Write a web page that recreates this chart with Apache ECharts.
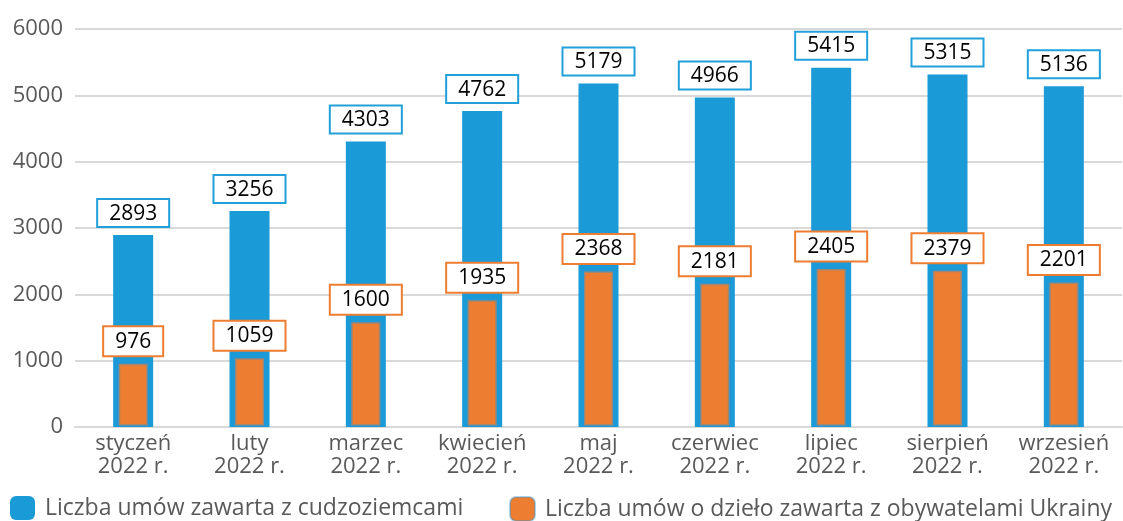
<!DOCTYPE html>
<html>
<head>
<meta charset="utf-8">
<script src="https://cdn.jsdelivr.net/npm/echarts@6/dist/echarts.min.js"></script>
<style>
html,body{margin:0;padding:0;background:#fff;}
#chart{width:1123px;height:521px;}
</style>
</head>
<body>
<div id="chart"></div>
<script>
const categories = ['styczeń\n2022 r.', 'luty\n2022 r.', 'marzec\n2022 r.', 'kwiecień\n2022 r.', 'maj\n2022 r.', 'czerwiec\n2022 r.', 'lipiec\n2022 r.', 'sierpień\n2022 r.', 'wrzesień\n2022 r.'];
const seriesNames = ['Liczba umów zawarta z cudzoziemcami', 'Liczba umów o dzieło zawarta z obywatelami Ukrainy'];
const foreignersValues = [2893, 3256, 4303, 4762, 5179, 4966, 5415, 5315, 5136];
const ukraineValues = [976, 1059, 1600, 1935, 2368, 2181, 2405, 2379, 2201];
const yTicks = [0, 1000, 2000, 3000, 4000, 5000, 6000];

const FONT = '"Open Sans", "Liberation Sans", sans-serif';
const BLUE = '#1B9AD8';
const ORANGE = '#ED7D31';
const GREY = '#595959';

const chart = echarts.init(document.getElementById('chart'), null, {renderer: 'canvas'});
chart.setOption({
  animation: false,
  textStyle: {fontFamily: FONT},
  grid: {left: 75, right: 1, top: 29, bottom: 94, containLabel: false},
  legend: [
    {data: [seriesNames[0]], left: 10, top: 496, itemWidth: 25, itemHeight: 24, itemGap: 10, padding: 0,
     textStyle: {fontFamily: FONT, fontSize: 23, color: GREY, padding: [0, 0, 0, 5]}},
    {data: [seriesNames[1]], left: 509, top: 496, itemWidth: 25, itemHeight: 24, itemGap: 10, padding: 0,
     textStyle: {fontFamily: FONT, fontSize: 23, color: GREY, padding: [0, 0, 0, 5]}}
  ],
  xAxis: [
    {type: 'category', data: categories,
     axisLine: {show: true, lineStyle: {color: '#D9D9D9', width: 2}},
     axisTick: {show: false},
     axisLabel: {fontFamily: FONT, fontSize: 22, color: GREY, lineHeight: 23, margin: 5, interval: 0}},
    {type: 'category', data: categories, show: false}
  ],
  yAxis: {
    type: 'value', min: yTicks[0], max: yTicks[yTicks.length - 1], interval: 1000,
    axisLine: {show: false}, axisTick: {show: false},
    axisLabel: {fontFamily: FONT, fontSize: 22, color: GREY, margin: 12, formatter: v => String(v)},
    splitLine: {lineStyle: {color: '#D9D9D9', width: 2}}
  },
  series: [
    {name: seriesNames[0], type: 'bar', xAxisIndex: 0, data: foreignersValues, barWidth: 40,
     itemStyle: {color: BLUE},
     label: {show: true, position: 'top', distance: 9, fontFamily: FONT, fontSize: 21, color: '#000',
       backgroundColor: '#fff', borderColor: '#22A0DA', borderWidth: 2, padding: [3, 11, 2, 11]}},
    {name: seriesNames[1], type: 'bar', xAxisIndex: 1, data: ukraineValues, barWidth: 32, z: 3,
     itemStyle: {color: ORANGE, borderColor: 'rgba(40,150,215,0.4)', borderWidth: 3},
     label: {show: true, position: 'top', distance: 7, fontFamily: FONT, fontSize: 21, color: '#000',
       backgroundColor: '#fff', borderColor: ORANGE, borderWidth: 2, padding: [4, 11, 3, 11]}}
  ]
});
</script>
</body>
</html>
